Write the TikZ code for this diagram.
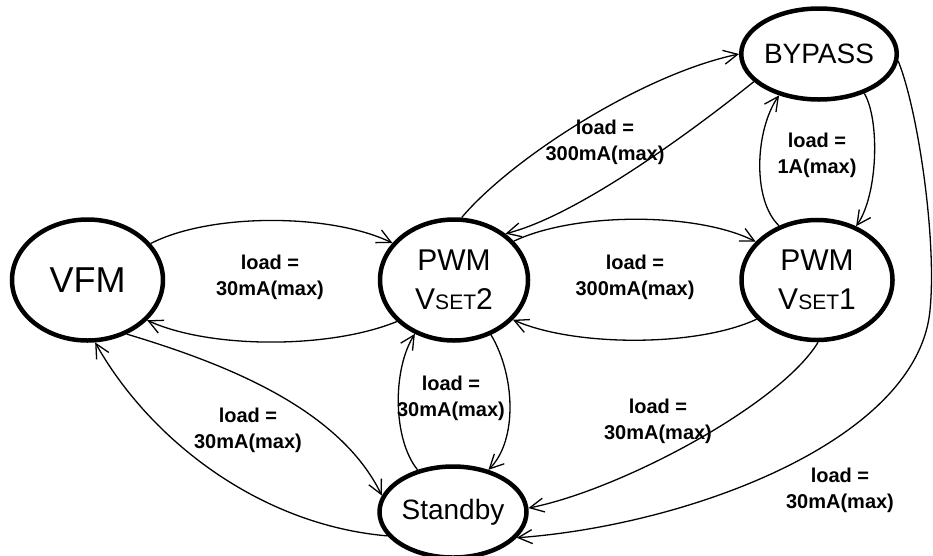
\documentclass[tikz,border=0pt]{standalone}
\usepackage{fontspec}
\setmainfont{Liberation Sans}
\usetikzlibrary{shapes.geometric,arrows.meta}
\begin{document}
\begin{tikzpicture}[x=1pt,y=-1pt,
  state/.style={draw,ellipse,line width=4.5pt,inner sep=0pt},
  conn/.style={line width=1.3pt,-{Straight Barb[length=14pt,width=14pt,line width=1.3pt]}},
  lbl/.style={font=\fontsize{20}{26}\selectfont\bfseries,align=center,inner sep=0pt}]
\useasboundingbox (0,0) rectangle (933,555);
\node[state,minimum width=151pt,minimum height=121pt,font=\fontsize{36}{40}\selectfont] (vfm) at (87.5,280) {VFM};
\node[state,minimum width=148pt,minimum height=121pt,align=center,font=\fontsize{30}{39}\selectfont] (pwm2) at (454,280) {PWM\\V{\fontsize{21}{21}\selectfont SET}2};
\node[state,minimum width=151pt,minimum height=120pt,align=center,font=\fontsize{30}{39}\selectfont] (pwm1) at (817,280) {PWM\\V{\fontsize{21}{21}\selectfont SET}1};
\node[state,minimum width=151pt,minimum height=91pt,font=\fontsize{28}{32}\selectfont] (bypass) at (819,54) {BYPASS};
\node[state,minimum width=147pt,minimum height=91pt,font=\fontsize{28}{32}\selectfont] (standby) at (453,512) {Standby};

% VFM <-> PWM2
\draw[conn] (vfm.30) .. controls (210,213) and (330,213) .. (pwm2.149);
\draw[conn] (pwm2.216) .. controls (330,349) and (210,349) .. (vfm.-34);
\node[lbl] (l1) at (270,277) {load =\\30mA(max)};

% PWM2 <-> BYPASS
\draw[conn] (pwm2.83) .. controls (510,160) and (640,75) .. (bypass.180);
\draw[conn] (bypass.203) .. controls (700,125) and (580,215) .. (pwm2.42);
\node[lbl] (l2) at (605,142) {load =\\300mA(max)};

% PWM2 <-> PWM1
\draw[conn] (pwm2.33) .. controls (575,212) and (697,212) .. (pwm1.148);
\draw[conn] (pwm1.213) .. controls (697,347) and (575,347) .. (pwm2.-34);
\node[lbl] (l3) at (635,277) {load =\\300mA(max)};

% PWM1 <-> BYPASS
\draw[conn] (pwm1.125) .. controls (752,200) and (755,130) .. (bypass.226);
\draw[conn] (bypass.-41) .. controls (880,120) and (878,195) .. (pwm1.54);
\node[lbl] (l4) at (817,155) {load =\\1A(max)};

% PWM2 <-> Standby
\draw[conn] (pwm2.-56) .. controls (515,375) and (518,440) .. (standby.50);
\draw[conn] (standby.130) .. controls (393,440) and (392,370) .. (pwm2.234);
\node[lbl] (l5) at (451,398) {load =\\30mA(max)};

% VFM <-> Standby
\draw[conn] (vfm.-54) .. controls (230,365) and (340,410) .. (standby.167);
\draw[conn] (standby.200) .. controls (260,525) and (150,440) .. (vfm.-83);
\node[lbl] (l6) at (248,430) {load =\\30mA(max)};

% PWM1 -> Standby
\draw[conn] (pwm1.-89) .. controls (780,405) and (620,490) .. (standby.3);
\node[lbl] (l7) at (658,421) {load =\\30mA(max)};

% BYPASS -> Standby
\coordinate (bend) at (930,310);
\draw[conn] (bypass.-5) .. controls (918,110) and (937,240) .. (bend)
  .. controls (918,440) and (690,525) .. (standby.-22);
\node[lbl] (l8) at (840,490) {load =\\30mA(max)};
\end{tikzpicture}
\end{document}
